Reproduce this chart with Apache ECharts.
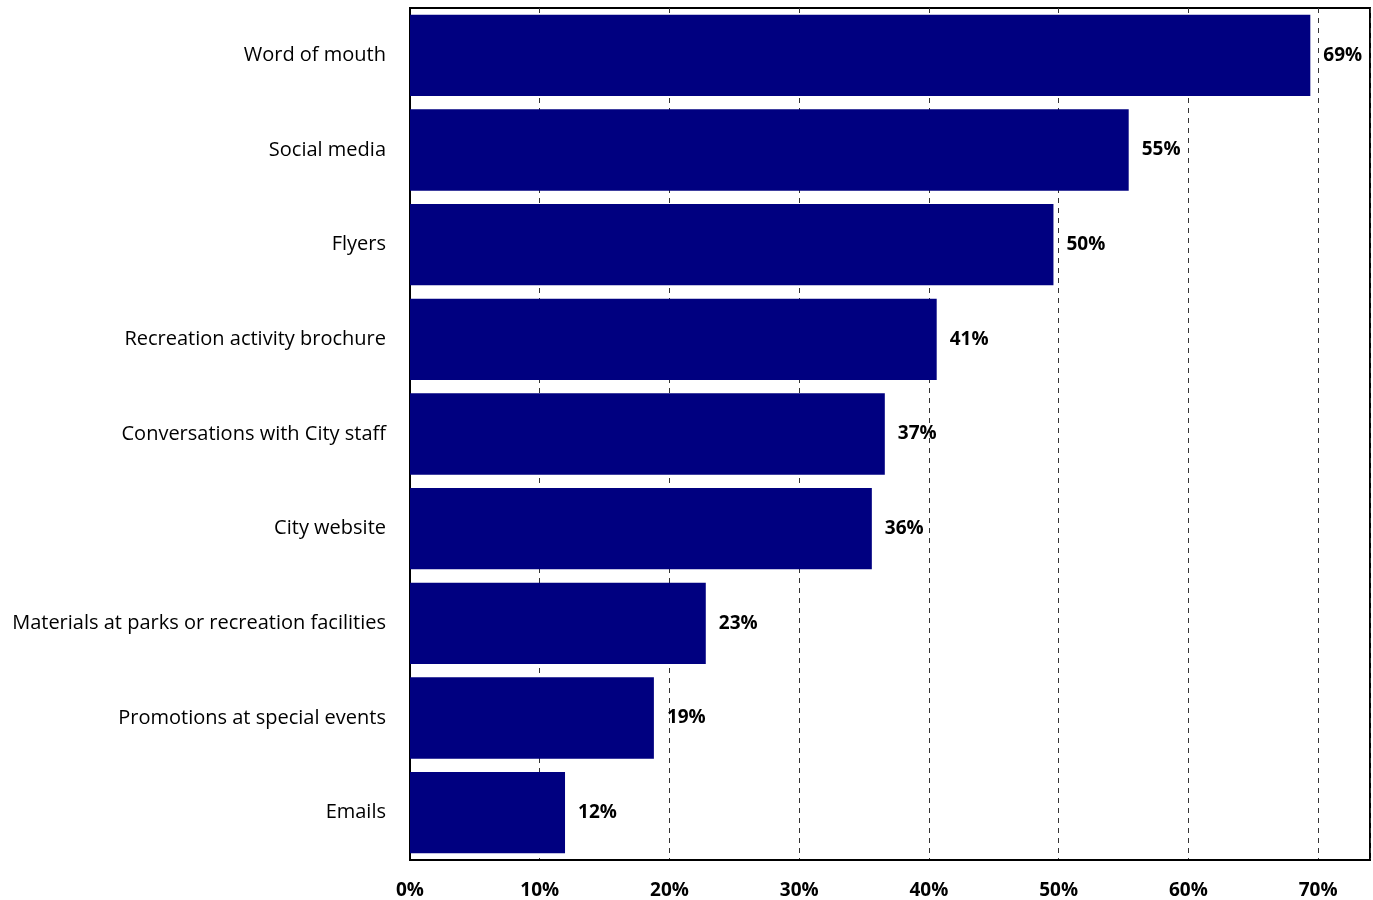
<!DOCTYPE html>
<html><head><meta charset="utf-8">
<script src="https://cdn.jsdelivr.net/npm/echarts@6/dist/echarts.min.js"></script>
<style>html,body{margin:0;padding:0;background:#fff}#c{width:1373px;height:900px}</style>
</head><body><div id="c"></div>
<script>
const categories = ["Word of mouth","Social media","Flyers","Recreation activity brochure","Conversations with City staff","City website","Materials at parks or recreation facilities","Promotions at special events","Emails"];
const values = [69.4, 55.4, 49.6, 40.6, 36.6, 35.6, 22.8, 18.8, 11.95];
const tickLabels = ["0%","10%","20%","30%","40%","50%","60%","70%"];

const chart = echarts.init(document.getElementById('c'));
const FONT = '"Open Sans", Lato, sans-serif';
chart.setOption({
  animation: false,
  grid: {left: 410, right: 3, top: 8, bottom: 39, show: true, borderColor: '#000', borderWidth: 2, backgroundColor: 'transparent'},
  xAxis: {
    type: 'value', min: 0, max: 74, interval: 10,
    axisLine: {show: true, lineStyle: {color: '#000', width: 2}},
    axisTick: {show: false},
    axisLabel: {margin: 21, color: '#000', fontSize: 19, fontWeight: 'bold', fontFamily: FONT,
      showMaxLabel: false,
      formatter: v => { const i = Math.round(v/10); return (v % 10 === 0 && i < tickLabels.length) ? tickLabels[i] : ''; }},
    splitLine: {show: true, lineStyle: {color: '#333', type: [5,5], width: 1}}
  },
  yAxis: {
    type: 'category', data: categories, inverse: true,
    axisLine: {show: true, lineStyle: {color: '#000', width: 2}},
    axisTick: {show: false},
    axisLabel: {margin: 24, color: '#000', fontSize: 20, fontFamily: FONT, padding: [3, 0, 0, 0]}
  },
  series: [{
    type: 'bar', data: values, barCategoryGap: '14%',
    itemStyle: {color: '#000080'},
    label: {show: true, position: 'right', distance: 13, color: '#000', fontSize: 19, fontWeight: 'bold', fontFamily: FONT,
      padding: [3, 0, 0, 0],
      formatter: p => Math.round(p.value) + '%'}
  }]
});
</script></body></html>
